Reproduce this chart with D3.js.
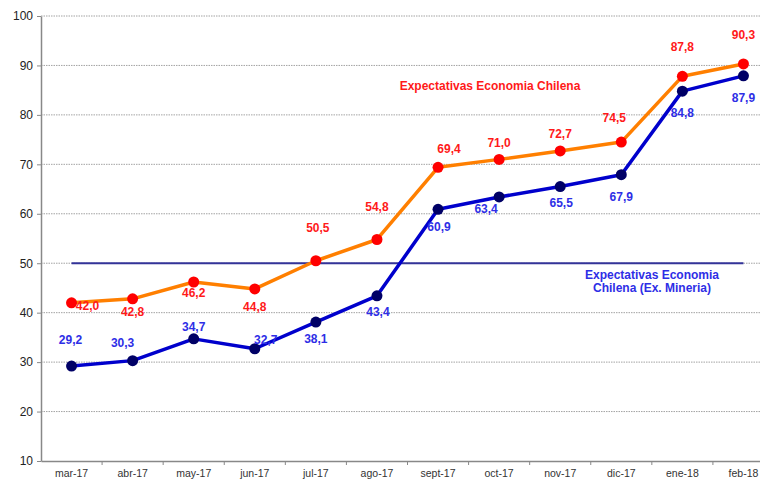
<!DOCTYPE html>
<html>
<head>
<meta charset="utf-8">
<script src="https://cdn.jsdelivr.net/npm/d3@7"></script>
<style>
  body { margin: 0; background: #fff; }
  svg { display: block; font-family: Arial, "Liberation Sans", sans-serif; }
</style>
</head>
<body>
<svg id="chart" width="760" height="481"></svg>
<script>
// data
const months = ['mar-17', 'abr-17', 'may-17', 'jun-17', 'jul-17', 'ago-17', 'sept-17', 'oct-17', 'nov-17', 'dic-17', 'ene-18', 'feb-18']
const economia = [42.0, 42.8, 46.2, 44.8, 50.5, 54.8, 69.4, 71.0, 72.7, 74.5, 87.8, 90.3]
const exMineria = [29.2, 30.3, 34.7, 32.7, 38.1, 43.4, 60.9, 63.4, 65.5, 67.9, 84.8, 87.9]
const umbral = 50
const yTicks = [10, 20, 30, 40, 50, 60, 70, 80, 90, 100]

// label offsets (px) from each point
const ecoOffsets = [[16, 3], [0, 13], [0, 11], [0, 18], [2, -33], [0, -33], [11, -19], [0, -17], [0, -17], [-7, -24], [0, -30], [0, -29]]
const minOffsets = [[-1, -26], [-10, -18], [0, -12], [11, -9], [0, 17], [1, 16], [1, 17], [-13, 12], [1, 16], [0, 22], [0, 22], [0, 22]]

const svg = d3.select('#chart')
const fmt = v => d3.format('.1f')(v).replace('.', ',')

const x = d3.scaleBand().domain(months).range([41, 774])
const y = d3.scaleLinear().domain([10, 100]).range([461, 16])
const cx = d => x(d) + x.bandwidth() / 2

// gridlines
svg.append('g')
    .selectAll('line')
    .data(yTicks.slice(1))
    .enter()
    .append('line')
    .attr('x1', 41).attr('x2', 760)
    .attr('y1', d => y(d)).attr('y2', d => y(d))
    .attr('stroke', '#8c8c8c')
    .attr('stroke-width', 0.8)
    .attr('stroke-dasharray', '1.5,1')

// y axis
const yAxis = svg.append('g')
    .attr('transform', 'translate(41,0)')
    .call(d3.axisLeft(y).tickValues(yTicks).tickSize(4).tickSizeOuter(0))
yAxis.select('.domain').attr('stroke', '#888').attr('stroke-width', 1.5)
yAxis.selectAll('.tick line').attr('stroke', '#888')
yAxis.selectAll('text').attr('font-size', 12).attr('fill', '#222').attr('x', -8)

// x axis
const xAxis = svg.append('g')
    .attr('transform', 'translate(0,461)')
    .call(d3.axisBottom(x).tickSize(0).tickSizeOuter(0))
xAxis.select('.domain').attr('stroke', '#888').attr('stroke-width', 1.5)
xAxis.selectAll('text').attr('font-size', 10.5).attr('fill', '#333').attr('dy', '1.25em')
xAxis.selectAll('.sep')
    .data(months.slice(1))
    .enter()
    .append('line')
    .attr('x1', d => x(d)).attr('x2', d => x(d))
    .attr('y1', 0).attr('y2', 4)
    .attr('stroke', '#888')

// reference line at 50
svg.append('line')
    .attr('x1', cx(months[0])).attr('x2', cx(months[months.length - 1]))
    .attr('y1', y(umbral)).attr('y2', y(umbral))
    .attr('stroke', '#333399')
    .attr('stroke-width', 2)

function drawSeries(values, lineColor, dotColor, labelColor, offsets) {
    const line = d3.line()
        .x((d, i) => cx(months[i]))
        .y(d => y(d))
    svg.append('path')
        .datum(values)
        .attr('d', line)
        .attr('fill', 'none')
        .attr('stroke', lineColor)
        .attr('stroke-width', 3.5)
        .attr('stroke-linejoin', 'round')
    svg.append('g')
        .selectAll('circle')
        .data(values)
        .enter()
        .append('circle')
        .attr('cx', (d, i) => cx(months[i]))
        .attr('cy', d => y(d))
        .attr('r', 5.5)
        .attr('fill', dotColor)
    svg.append('g')
        .selectAll('text')
        .data(values)
        .enter()
        .append('text')
        .attr('x', (d, i) => cx(months[i]) + offsets[i][0])
        .attr('y', (d, i) => y(d) + offsets[i][1])
        .attr('dy', '0.35em')
        .attr('text-anchor', 'middle')
        .attr('font-size', 12)
        .attr('font-weight', 'bold')
        .attr('fill', labelColor)
        .text(fmt)
}

drawSeries(economia, '#ff7f00', '#ff0000', '#ff1a1a', ecoOffsets)
drawSeries(exMineria, '#0000cc', '#000066', '#2e2ee6', minOffsets)

// series names
svg.append('text')
    .attr('x', 490).attr('y', 86)
    .attr('dy', '0.35em')
    .attr('text-anchor', 'middle')
    .attr('font-size', 12)
    .attr('font-weight', 'bold')
    .attr('fill', '#ff1a1a')
    .text('Expectativas Economia Chilena')

const nameMin = svg.append('text')
    .attr('x', 652).attr('y', 275)
    .attr('text-anchor', 'middle')
    .attr('font-size', 12)
    .attr('font-weight', 'bold')
    .attr('fill', '#2e2ee6')
nameMin.append('tspan').attr('x', 652).attr('dy', '0.35em').text('Expectativas Economia')
nameMin.append('tspan').attr('x', 652).attr('dy', 12.5).text('Chilena (Ex. Mineria)')
</script>
</body>
</html>
